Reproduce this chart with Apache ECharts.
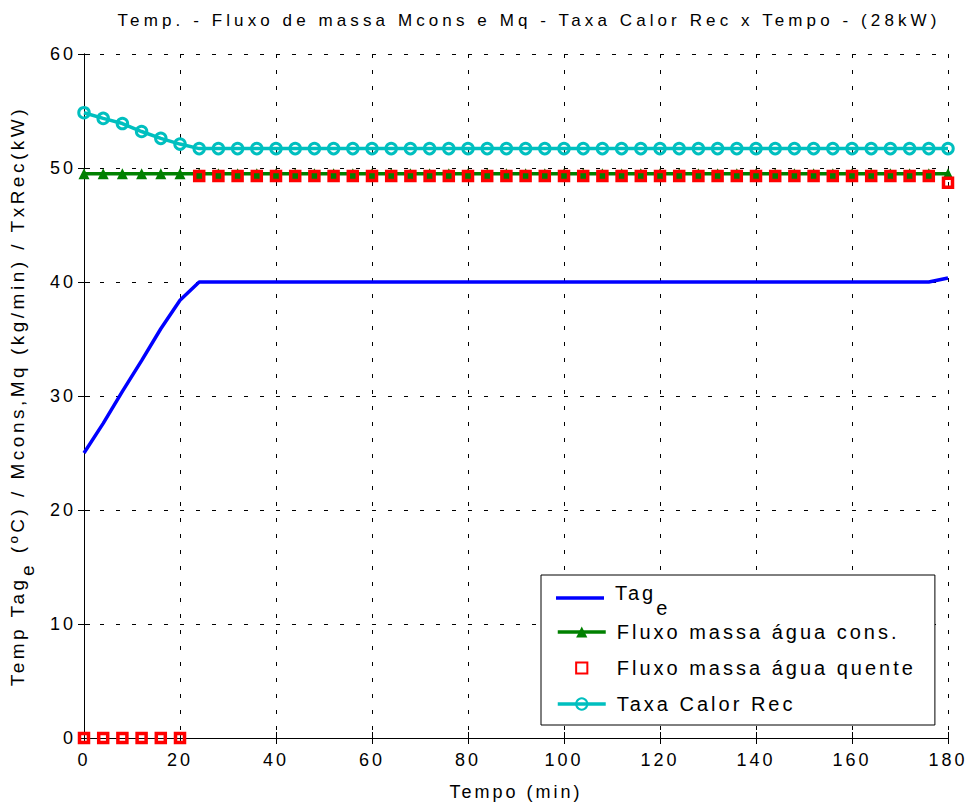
<!DOCTYPE html>
<html>
<head>
<meta charset="utf-8">
<script src="https://cdn.jsdelivr.net/npm/echarts@6/dist/echarts.min.js"></script>
<style>
  html, body { margin: 0; padding: 0; background: #fff; }
  #main { width: 976px; height: 807px; }
  /* MATLAB print look: wide letter spacing */
  #main text { letter-spacing: 3px; }
  #main text[style*="17px"] { letter-spacing: 4.1px; }
  #main text[style*="19px"] { letter-spacing: 3.5px; }
</style>
</head>
<body>
<div id="main"></div>
<script>
// tempo (min)
const tempo = [
  0, 4, 8, 12, 16, 20, 24, 28, 32, 36,
  40, 44, 48, 52, 56, 60, 64, 68, 72, 76,
  80, 84, 88, 92, 96, 100, 104, 108, 112, 116,
  120, 124, 128, 132, 136, 140, 144, 148, 152, 156,
  160, 164, 168, 172, 176, 180
]
// Tag_e (ºC)
const tage = [
  25.0, 27.6, 30.4, 33.1, 35.9, 38.4, 40.0, 40.0, 40.0, 40.0,
  40.0, 40.0, 40.0, 40.0, 40.0, 40.0, 40.0, 40.0, 40.0, 40.0,
  40.0, 40.0, 40.0, 40.0, 40.0, 40.0, 40.0, 40.0, 40.0, 40.0,
  40.0, 40.0, 40.0, 40.0, 40.0, 40.0, 40.0, 40.0, 40.0, 40.0,
  40.0, 40.0, 40.0, 40.0, 40.0, 40.35
]
// fluxo massa agua cons. (kg/min)
const mcons = [
  49.5, 49.5, 49.5, 49.5, 49.5, 49.5, 49.5, 49.5, 49.5, 49.5,
  49.5, 49.5, 49.5, 49.5, 49.5, 49.5, 49.5, 49.5, 49.5, 49.5,
  49.5, 49.5, 49.5, 49.5, 49.5, 49.5, 49.5, 49.5, 49.5, 49.5,
  49.5, 49.5, 49.5, 49.5, 49.5, 49.5, 49.5, 49.5, 49.5, 49.5,
  49.5, 49.5, 49.5, 49.5, 49.5, 49.5
]
// fluxo massa agua quente (kg/min)
const mq = [
  0, 0, 0, 0, 0, 0, 49.3, 49.3, 49.3, 49.3,
  49.3, 49.3, 49.3, 49.3, 49.3, 49.3, 49.3, 49.3, 49.3, 49.3,
  49.3, 49.3, 49.3, 49.3, 49.3, 49.3, 49.3, 49.3, 49.3, 49.3,
  49.3, 49.3, 49.3, 49.3, 49.3, 49.3, 49.3, 49.3, 49.3, 49.3,
  49.3, 49.3, 49.3, 49.3, 49.3, 48.7
]
// taxa calor rec (kW)
const txRec = [
  54.85, 54.35, 53.9, 53.2, 52.6, 52.1, 51.7, 51.7, 51.7, 51.7,
  51.7, 51.7, 51.7, 51.7, 51.7, 51.7, 51.7, 51.7, 51.7, 51.7,
  51.7, 51.7, 51.7, 51.7, 51.7, 51.7, 51.7, 51.7, 51.7, 51.7,
  51.7, 51.7, 51.7, 51.7, 51.7, 51.7, 51.7, 51.7, 51.7, 51.7,
  51.7, 51.7, 51.7, 51.7, 51.7, 51.7
]

const FONT = '"Liberation Sans", Arial, Helvetica, sans-serif'
const pairs = arr => tempo.map((t, i) => [t, arr[i]])

const chart = echarts.init(document.getElementById('main'), null, { renderer: 'svg' })

const gridDash = { color: '#000', width: 1, type: [4, 12] }
const legendRich = {
  t: { fontFamily: FONT, fontSize: 20, align: 'left', padding: [0, 0, 10, 6] },
  s: { fontFamily: FONT, fontSize: 20, align: 'left', padding: [19, 3, 0, 9] },
  n: { fontFamily: FONT, fontSize: 20, align: 'left', padding: [0, 0, 0, 6] }
}
const legendFormatter = function (name) {
  if (name === 'Tage') return '{t|Tag}{s|e}'
  return '{n|' + name + '}'
}

const options = {
  backgroundColor: '#fff',
  animation: false,
  title: {
    text: 'Temp. - Fluxo de massa Mcons e Mq - Taxa Calor Rec x Tempo - (28kW)',
    left: 529,
    top: 12,
    padding: 0,
    textAlign: 'center',
    textStyle: { fontFamily: FONT, fontSize: 17, fontWeight: 'normal', color: '#000' }
  },
  grid: { left: 84, right: 28, top: 54, bottom: 69, containLabel: false, outerBoundsMode: 'none' },
  legend: [
    {
      // box + last three items
      orient: 'vertical',
      left: 541,
      top: 575,
      padding: [47, 88, 11, 15],
      itemGap: 16,
      itemWidth: 48,
      itemHeight: 14,
      selectedMode: false,
      backgroundColor: '#fff',
      borderColor: '#000',
      borderWidth: 1,
      borderRadius: 0,
      lineStyle: { width: 3.5 },
      data: ['Fluxo massa água cons.', 'Fluxo massa água quente', 'Taxa Calor Rec'],
      formatter: legendFormatter,
      textStyle: { fontFamily: FONT, fontSize: 20, color: '#000', rich: legendRich }
    },
    {
      // first item with subscript, drawn over the box
      orient: 'vertical',
      left: 556,
      top: 583,
      padding: 0,
      itemWidth: 48,
      itemHeight: 14,
      selectedMode: false,
      z: 10,
      data: [{ name: 'Tage', icon: 'path://M0,0H48V3.5H0Z' }],
      formatter: legendFormatter,
      textStyle: { fontFamily: FONT, fontSize: 20, color: '#000', rich: legendRich }
    }
  ],
  xAxis: [
    {
      type: 'value',
      min: 0,
      max: 180,
      interval: 20,
      name: 'Tempo (min)',
      nameLocation: 'middle',
      nameGap: 45,
      nameTextStyle: { fontFamily: FONT, fontSize: 18, color: '#000' },
      axisLine: { show: true, lineStyle: { color: '#000', width: 1 } },
      axisTick: { show: true, inside: true, length: 6, lineStyle: { color: '#000' } },
      axisLabel: { fontFamily: FONT, fontSize: 18, color: '#000', margin: 13 },
      splitLine: { show: true, lineStyle: gridDash }
    },
    {
      type: 'value',
      position: 'top',
      min: 0,
      max: 180,
      interval: 20,
      axisLine: { show: true, lineStyle: { color: '#000', width: 1 } },
      axisTick: { show: true, inside: true, length: 6, lineStyle: { color: '#000' } },
      axisLabel: { show: false },
      splitLine: { show: false }
    }
  ],
  yAxis: [
    {
      type: 'value',
      min: 0,
      max: 60,
      interval: 10,
      name: '{a|Temp Tag}{s|e}{b| (ºC) / Mcons,Mq (kg/min) / TxRec(kW)}',
      nameLocation: 'middle',
      nameGap: 47,
      nameRotate: 90,
      nameTextStyle: {
        fontFamily: FONT,
        fontSize: 19,
        color: '#000',
        rich: {
          a: { fontFamily: FONT, fontSize: 19, align: 'left', padding: [0, 0, 0, 0] },
          s: { fontFamily: FONT, fontSize: 19, align: 'left', padding: [20, 3.5, 0, 28] },
          b: { fontFamily: FONT, fontSize: 19, align: 'left', padding: [0, 129.5, 0, 0] }
        }
      },
      axisLine: { show: true, lineStyle: { color: '#000', width: 1 } },
      axisTick: { show: true, inside: true, length: 6, lineStyle: { color: '#000' } },
      axisLabel: { fontFamily: FONT, fontSize: 18, color: '#000', margin: 8 },
      splitLine: { show: true, lineStyle: gridDash }
    },
    {
      type: 'value',
      position: 'right',
      min: 0,
      max: 60,
      interval: 10,
      axisLine: { show: true, lineStyle: { color: '#000', width: 1 } },
      axisTick: { show: true, inside: true, length: 6, lineStyle: { color: '#000' } },
      axisLabel: { show: false },
      splitLine: { show: false }
    }
  ],
  series: [
    {
      name: 'Tage',
      type: 'line',
      data: pairs(tage),
      symbol: 'none',
      clip: false,
      color: '#0000ff',
      lineStyle: { color: '#0000ff', width: 3.5 }
    },
    {
      name: 'Fluxo massa água cons.',
      type: 'line',
      data: pairs(mcons),
      symbol: 'triangle',
      symbolSize: 11,
      clip: false,
      color: '#008000',
      lineStyle: { color: '#008000', width: 3.5 },
      itemStyle: { color: '#008000' }
    },
    {
      // markers only
      name: 'Fluxo massa água quente',
      type: 'line',
      data: pairs(mq),
      symbol: 'rect',
      symbolSize: 9,
      clip: false,
      color: '#ff0000',
      lineStyle: { color: '#ff0000', width: 0, opacity: 0 },
      itemStyle: { color: 'none', borderColor: '#ff0000', borderWidth: 3.5 }
    },
    {
      name: 'Taxa Calor Rec',
      type: 'line',
      data: pairs(txRec),
      symbol: 'circle',
      symbolSize: 10.5,
      clip: false,
      color: '#00bfbf',
      lineStyle: { color: '#00bfbf', width: 3.5 },
      itemStyle: { color: 'none', borderColor: '#00bfbf', borderWidth: 3 }
    }
  ]
}

chart.setOption(options)
</script>
</body>
</html>
